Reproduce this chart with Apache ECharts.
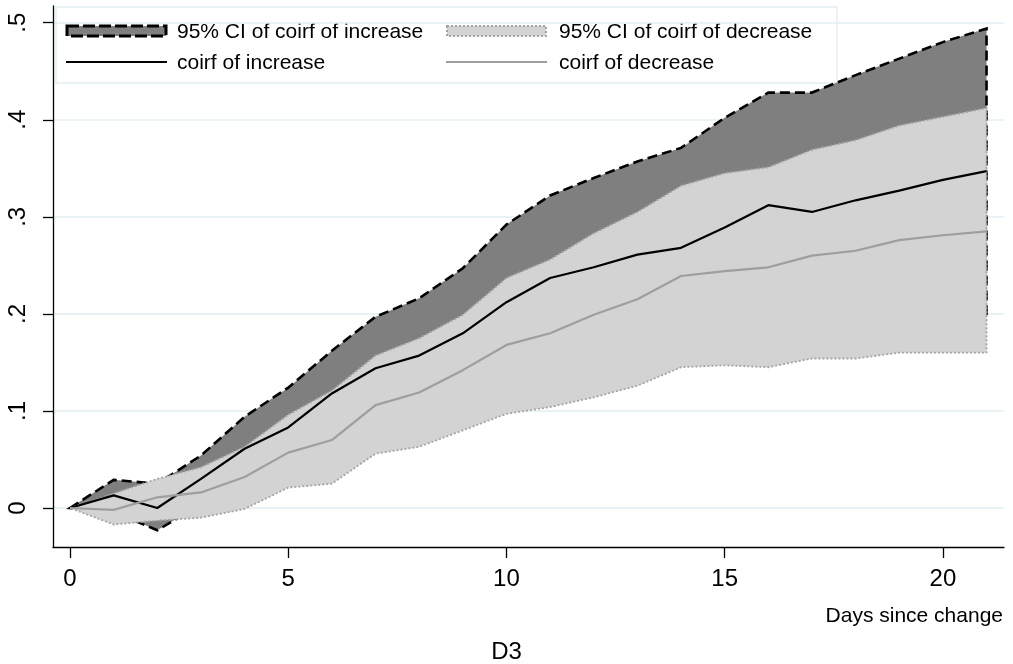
<!DOCTYPE html>
<html>
<head>
<meta charset="utf-8">
<script src="https://cdn.jsdelivr.net/npm/echarts@6/dist/echarts.min.js"></script>
<style>
  html, body { margin: 0; padding: 0; background: #fff; }
  #chart { width: 1013px; height: 664px; }
</style>
</head>
<body>
<div id="chart"></div>
<script>
// Days since the change
const days = [0, 1, 2, 3, 4, 5, 6, 7, 8, 9, 10, 11, 12, 13, 14, 15, 16, 17, 18, 19, 20, 21];

// Cumulative orthogonalized IRF after an increase, with its 95% band
const incCoef  = [0, 0.013, 0.000, 0.030, 0.061, 0.083, 0.118, 0.144, 0.157, 0.180, 0.212, 0.237, 0.248, 0.261, 0.268, 0.289, 0.312, 0.305, 0.317, 0.327, 0.338, 0.347];
const incUpper = [0, 0.029, 0.025, 0.054, 0.094, 0.124, 0.162, 0.197, 0.216, 0.247, 0.292, 0.322, 0.340, 0.357, 0.371, 0.402, 0.428, 0.428, 0.446, 0.463, 0.480, 0.494];
const incLower = [0, -0.004, -0.023, 0.004, 0.028, 0.042, 0.074, 0.091, 0.098, 0.113, 0.132, 0.152, 0.156, 0.165, 0.165, 0.176, 0.196, 0.182, 0.188, 0.191, 0.196, 0.200];

// Cumulative orthogonalized IRF after a decrease, with its 95% band
const decCoef  = [0, -0.002, 0.011, 0.016, 0.032, 0.057, 0.070, 0.106, 0.119, 0.142, 0.168, 0.180, 0.199, 0.215, 0.239, 0.244, 0.248, 0.260, 0.265, 0.276, 0.281, 0.285];
const decUpper = [0, 0.015, 0.030, 0.042, 0.063, 0.096, 0.121, 0.157, 0.175, 0.199, 0.237, 0.256, 0.283, 0.305, 0.332, 0.345, 0.351, 0.369, 0.379, 0.394, 0.403, 0.412];
const decLower = [0, -0.017, -0.013, -0.010, -0.001, 0.021, 0.025, 0.056, 0.063, 0.080, 0.097, 0.104, 0.114, 0.126, 0.145, 0.147, 0.145, 0.154, 0.154, 0.160, 0.160, 0.160];

// Axis ticks
const xTicks = [0, 5, 10, 15, 20];
const yTicks = [0, 0.1, 0.2, 0.3, 0.4, 0.5];

// Legend labels
const legendLabels = [
  '95% CI of coirf of increase',
  '95% CI of coirf of decrease',
  'coirf of increase',
  'coirf of decrease'
];

const FONT = '"Liberation Sans", Arial, sans-serif';

// Closed band polygon: upper edge left→right, lower edge right→left
function bandRenderer(upper, lower, style) {
  return function (params, api) {
    if (params.dataIndex !== 0) return null;
    const pts = [];
    for (let i = 0; i < days.length; i++) pts.push(api.coord([days[i], upper[i]]));
    for (let i = days.length - 1; i >= 0; i--) pts.push(api.coord([days[i], lower[i]]));
    return { type: 'polygon', shape: { points: pts }, style: style };
  };
}

function fmtY(v) {
  if (Math.abs(v) < 1e-9) return '0';
  return String(Math.round(v * 10) / 10).replace(/^0\./, '.');
}

const chart = echarts.init(document.getElementById('chart'), null, { renderer: 'canvas' });

chart.setOption({
  animation: false,
  backgroundColor: '#fff',
  textStyle: { fontFamily: FONT },
  title: [
    { text: 'Days since change', right: 5, top: 601,
      textStyle: { fontFamily: FONT, fontSize: 21, fontWeight: 'normal', color: '#000' } },
    { text: 'D3', left: 'center', top: 635,
      textStyle: { fontFamily: FONT, fontSize: 24, fontWeight: 'normal', color: '#000' } }
  ],
  grid: { left: 53, right: 9, top: 6, bottom: 117, containLabel: false },
  xAxis: {
    type: 'value',
    min: -0.39, max: 21.4,
    axisLine: { show: true, onZero: false, lineStyle: { color: '#000', width: 1.3 } },
    axisTick: { show: true, length: 11, customValues: xTicks, lineStyle: { color: '#000', width: 1.3 } },
    axisLabel: { customValues: xTicks, margin: 20, fontSize: 24, color: '#000', fontFamily: FONT },
    splitLine: { show: false }
  },
  yAxis: {
    type: 'value',
    min: -0.0402, max: 0.5172,
    axisLine: { show: true, onZero: false, lineStyle: { color: '#000', width: 1.3 } },
    axisTick: { show: true, length: 10, customValues: yTicks, lineStyle: { color: '#000', width: 1.3 } },
    axisLabel: { customValues: yTicks, rotate: 90, margin: 23, fontSize: 24, color: '#000',
                 fontFamily: FONT, formatter: fmtY },
    splitLine: { show: true, lineStyle: { color: '#e2eef1', width: 1.5 } }
  },
  series: [
    {
      name: legendLabels[0], type: 'custom', z: 2,
      data: days.map((d, i) => [d, incLower[i], incUpper[i]]),
      encode: { x: 0, y: [1, 2] },
      renderItem: bandRenderer(incUpper, incLower,
        { fill: '#7f7f7f', stroke: '#000', lineWidth: 2.6, lineDash: [10, 5] })
    },
    {
      name: legendLabels[1], type: 'custom', z: 3,
      data: days.map((d, i) => [d, decLower[i], decUpper[i]]),
      encode: { x: 0, y: [1, 2] },
      renderItem: bandRenderer(decUpper, decLower,
        { fill: '#d3d3d3', stroke: '#a4a4a4', lineWidth: 1.8, lineDash: [2, 2] })
    },
    {
      name: legendLabels[2], type: 'line', z: 4,
      data: days.map((d, i) => [d, incCoef[i]]),
      showSymbol: false, symbol: 'none',
      lineStyle: { color: '#000', width: 2.2 }
    },
    {
      name: legendLabels[3], type: 'line', z: 5,
      data: days.map((d, i) => [d, decCoef[i]]),
      showSymbol: false, symbol: 'none',
      lineStyle: { color: '#9e9e9e', width: 2.2 }
    }
  ],
  graphic: [
    {
      type: 'group', z: 100,
      children: [
        { type: 'rect', shape: { x: 56, y: 7, width: 781, height: 76 },
          style: { fill: '#fff', stroke: '#e2eef1', lineWidth: 1.5 } },
        { type: 'rect', shape: { x: 67, y: 26, width: 99, height: 10 },
          style: { fill: '#7f7f7f', stroke: '#000', lineWidth: 3, lineDash: [12, 4] } },
        { type: 'text', x: 177, y: 32,
          style: { text: legendLabels[0], font: '21px ' + FONT, fill: '#000', verticalAlign: 'middle' } },
        { type: 'rect', shape: { x: 447, y: 26, width: 99, height: 10 },
          style: { fill: '#d3d3d3', stroke: '#a4a4a4', lineWidth: 2, lineDash: [2, 2] } },
        { type: 'text', x: 559, y: 32,
          style: { text: legendLabels[1], font: '21px ' + FONT, fill: '#000', verticalAlign: 'middle' } },
        { type: 'line', shape: { x1: 66, y1: 62, x2: 167, y2: 62 },
          style: { stroke: '#000', lineWidth: 2.2 } },
        { type: 'text', x: 177, y: 63,
          style: { text: legendLabels[2], font: '21px ' + FONT, fill: '#000', verticalAlign: 'middle' } },
        { type: 'line', shape: { x1: 446, y1: 62, x2: 547, y2: 62 },
          style: { stroke: '#9e9e9e', lineWidth: 2.2 } },
        { type: 'text', x: 559, y: 63,
          style: { text: legendLabels[3], font: '21px ' + FONT, fill: '#000', verticalAlign: 'middle' } }
      ]
    }
  ]
});
</script>
</body>
</html>
